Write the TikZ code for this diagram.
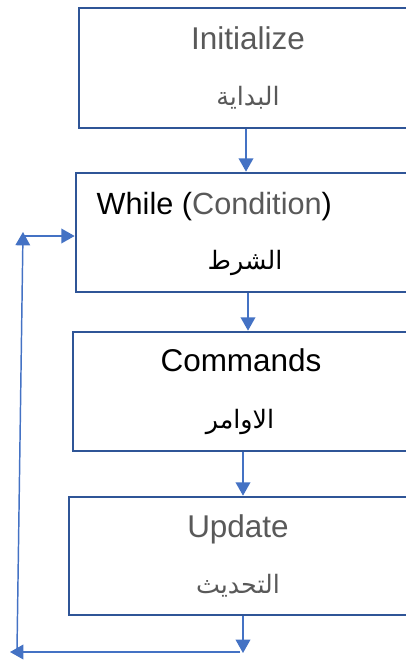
\documentclass[tikz,border=0pt]{standalone}
\usepackage{fontspec}
\setmainfont{Liberation Sans}
\newfontfamily\arabicfont[Script=Arabic]{DejaVu Sans}
\TeXXeTstate=1
\usetikzlibrary{arrows.meta,calc}
\definecolor{boxblue}{HTML}{2F5597}
\definecolor{flowblue}{HTML}{4472C4}
\definecolor{txtgray}{HTML}{595959}

\begin{document}
\begin{tikzpicture}[x=0.75pt,y=-0.75pt,
   stepbox/.style={draw=boxblue,line width=2pt,rectangle,inner sep=0pt},
   flow/.style={draw=flowblue,line width=1.1pt,-{Triangle[length=10pt,width=11pt]}},
   every node/.style={font=\fontsize{23.6}{28}\selectfont},
   ar/.style={font=\fontsize{19}{24}\selectfont\arabicfont}]
  \useasboundingbox (0,0) rectangle (406,660);
  \clip (0,0) rectangle (406,660);
  % boxes
  \node[stepbox,minimum width=255.75pt,minimum height=90pt] (init) at (249.5,68) {};
  \node[stepbox,minimum width=258pt,minimum height=89.25pt] (cond) at (248,232.5) {};
  \node[stepbox,minimum width=260.25pt,minimum height=89.25pt] (cmd) at (246.5,391.5) {};
  \node[stepbox,minimum width=263.25pt,minimum height=88.5pt] (upd) at (244.5,556) {};
  % texts
  \node[anchor=base,text=txtgray] (initEn) at (248,50) {Initialize};
  \node[anchor=base,text=txtgray,ar] (initAr) at (248,105) {\beginR البداية\endR};
  \node[anchor=base west,font=\fontsize{23}{28}\selectfont] (condEn) at (92,214) {While (\textcolor{txtgray}{Condition})};
  \node[anchor=base,ar] (condAr) at (245,269) {\beginR الشرط\endR};
  \node[anchor=base] (cmdEn) at (241,371) {Commands};
  \node[anchor=base,ar] (cmdAr) at (240,428) {\beginR الاوامر\endR};
  \node[anchor=base,text=txtgray] (updEn) at (238,537) {Update};
  \node[anchor=base,text=txtgray,ar] (updAr) at (238,593) {\beginR التحديث\endR};
  % loop corners
  \coordinate (down) at (243,653);
  \coordinate (bstart) at (240,652);
  \coordinate (bend) at (10,652);
  \coordinate (lbot) at (17,650);
  \coordinate (ltop) at (23,232);
  \coordinate (lmid) at (23,236);
  % arrows
  \draw[flow] ($(init.south)+(-3.5,0)$) -- ($(cond.north)+(-2,0)$);
  \draw[flow] (cond.south) -- (cond.south |- cmd.north);
  \draw[flow] ($(cmd.south)+(-3.5,0)$) -- ($(upd.north)+(-1.5,0)$);
  \draw[flow] ($(upd.south)+(-1.5,0)$) -- (down);
  \draw[flow] (bstart) -- (bend);
  \draw[flow] (lbot) -- (ltop);
  \draw[flow] (lmid) -- (lmid -| cond.west);
\end{tikzpicture}
\end{document}
